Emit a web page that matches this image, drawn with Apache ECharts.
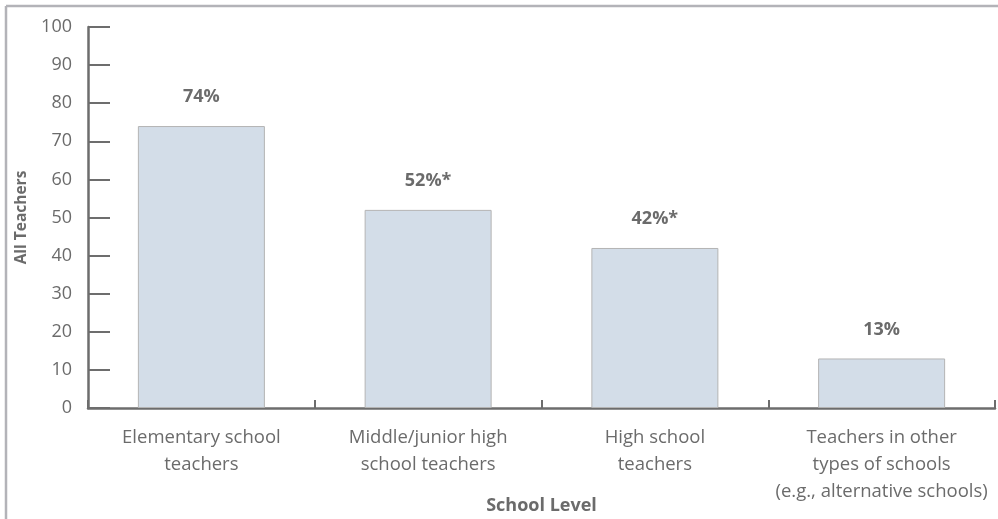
<!DOCTYPE html>
<html>
<head>
<meta charset="utf-8">
<script src="https://cdn.jsdelivr.net/npm/echarts@6/dist/echarts.min.js"></script>
<style>
  html, body { margin: 0; padding: 0; background: #fff; }
  #chart { width: 998px; height: 519px; }
</style>
</head>
<body>
<div id="chart"></div>
<script>
// School levels and share of teachers (percent)
const categories = [
  'Elementary school\nteachers',
  'Middle/junior high\nschool teachers',
  'High school\nteachers',
  'Teachers in other\ntypes of schools\n(e.g., alternative schools)'
];
const values = [74, 52, 42, 13];
const valueLabels = ['74%', '52%*', '42%*', '13%'];
const yTicks = [0, 10, 20, 30, 40, 50, 60, 70, 80, 90, 100];

const FONT = '"Open Sans", "Noto Sans", sans-serif';
const TEXT = '#6b6b6b';
const AXIS = '#6d6d6d';

const chart = echarts.init(document.getElementById('chart'), null, { renderer: 'canvas' });

chart.setOption({
  animation: false,
  textStyle: { fontFamily: FONT },
  graphic: [
    // frame lines along the top and left edges
    { type: 'line', shape: { x1: 6, y1: 6, x2: 998, y2: 6 }, style: { stroke: '#b3b3b8', lineWidth: 2.5 } },
    { type: 'line', shape: { x1: 6, y1: 6, x2: 6, y2: 519 }, style: { stroke: '#b3b3b8', lineWidth: 2.5 } }
  ],
  grid: { left: 88, right: 3, top: 27, bottom: 111, containLabel: false, outerBoundsMode: 'none' },
  xAxis: {
    type: 'category',
    data: categories,
    name: 'School Level',
    nameLocation: 'middle',
    nameGap: 89,
    nameMoveOverlap: false,
    nameTextStyle: { fontFamily: FONT, fontSize: 18, fontWeight: 'bold', color: TEXT },
    axisLine: { lineStyle: { color: AXIS, width: 2.5 } },
    axisTick: { show: true, inside: true, length: 8, alignWithLabel: false, lineStyle: { color: AXIS, width: 2 } },
    axisLabel: { fontFamily: FONT, fontSize: 18.5, color: TEXT, lineHeight: 27, margin: 16, interval: 0 }
  },
  yAxis: {
    type: 'value',
    min: 0,
    max: 100,
    interval: 10,
    name: 'All Teachers',
    nameLocation: 'middle',
    nameGap: 58,
    nameMoveOverlap: false,
    nameRotate: 90,
    nameTextStyle: { fontFamily: FONT, fontSize: 15.5, fontWeight: 'bold', color: TEXT },
    axisLine: { show: true, lineStyle: { color: AXIS, width: 2.5 } },
    axisTick: { show: true, inside: true, length: 22, lineStyle: { color: AXIS, width: 2 } },
    splitLine: { show: false },
    axisLabel: {
      fontFamily: FONT, fontSize: 18, color: TEXT, margin: 16,
      padding: [10, 0, 0, 0],
      formatter: v => (yTicks.includes(v) ? String(v) : '')
    }
  },
  series: [{
    type: 'bar',
    data: values,
    barWidth: 127,
    itemStyle: { color: '#d3dde8', borderColor: '#b4b4b4', borderWidth: 1 },
    label: {
      show: true,
      position: 'top',
      distance: 20,
      fontFamily: FONT,
      fontSize: 18,
      fontWeight: 'bold',
      color: TEXT,
      formatter: p => valueLabels[p.dataIndex]
    }
  }]
});
</script>
</body>
</html>
